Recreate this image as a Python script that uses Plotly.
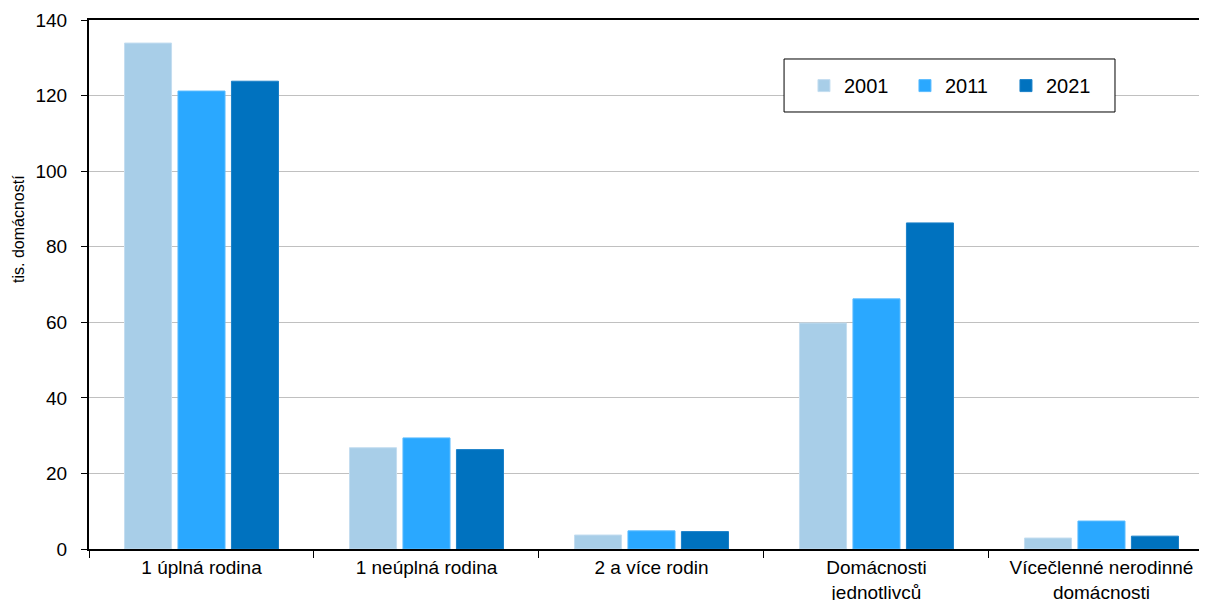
import plotly.graph_objects as go

categories = ["1 úplná rodina", "1 neúplná rodina", "2 a více rodin",
              "Domácnosti<br>jednotlivců", "Vícečlenné nerodinné<br>domácnosti"]
years = ["2001", "2011", "2021"]
v2001 = [133.9, 26.8, 3.7, 59.8, 2.9]
v2011 = [121.2, 29.4, 4.8, 66.2, 7.4]
v2021 = [123.8, 26.3, 4.6, 86.3, 3.4]
colors = ["#A8CEE8", "#2AA8FF", "#0072BF"]
edges = ["#C4DDF0", "#5BBCFF", "#1A80C8"]
y_ticks = [0, 20, 40, 60, 80, 100, 120, 140]
y_title = "tis. domácností"

FONT = "Liberation Sans, Arial, sans-serif"

fig = go.Figure()
for name, vals, c, e in zip(years, [v2001, v2011, v2021], colors, edges):
    fig.add_trace(go.Bar(name=name, x=categories, y=vals,
                         marker=dict(color=c, line=dict(color=e, width=1))))

fig.update_layout(
    width=1199, height=592,
    margin=dict(l=81, r=0, t=12, b=51, autoexpand=False),
    paper_bgcolor="white", plot_bgcolor="white",
    barmode="group", bargap=0.287, bargroupgap=0.12,
    font=dict(family=FONT, color="black"),
    legend=dict(orientation="h", x=0.6395, y=0.876, xanchor="left", yanchor="middle",
                borderwidth=0, bgcolor="rgba(0,0,0,0)",
                font=dict(size=20, family=FONT), entrywidth=56,
                itemwidth=30),
    showlegend=True,
    shapes=[dict(type="rect", xref="paper", yref="paper",
                 x0=0.6217, x1=0.9177, y0=0.8261, y1=0.9263,
                 line=dict(color="black", width=1), fillcolor="white", layer="above")],
    annotations=[dict(text=y_title, xref="paper", yref="y", x=0, y=84.7,
                      xanchor="center", yanchor="middle", xshift=-70,
                      textangle=-90, showarrow=False,
                      font=dict(size=16, family=FONT, color="black"))],
)
fig.update_xaxes(
    range=[-0.5, 4.469], showline=True, linecolor="black", linewidth=2, mirror=True,
    ticks="outside", ticklen=7, tickcolor="black", tickwidth=1, tickson="boundaries",
    tickfont=dict(size=19, family=FONT), showgrid=False,
)
fig.update_yaxes(
    range=[0, 140], tickvals=y_ticks, showline=True, linecolor="black", linewidth=2,
    ticks="outside", ticklen=6, tickcolor="black", ticklabelstandoff=10,
    showgrid=True, gridcolor="#C0C0C0", gridwidth=1,
    tickfont=dict(size=19, family=FONT),
    zeroline=False,
)

fig.write_html("out.html")
